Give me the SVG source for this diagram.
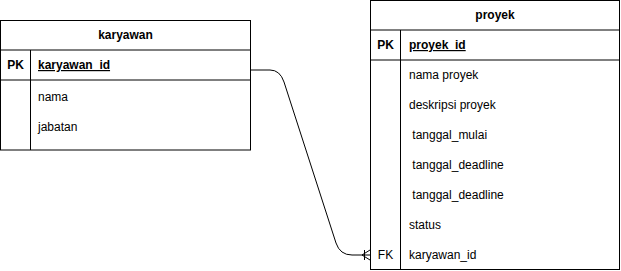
<svg xmlns="http://www.w3.org/2000/svg" width="621" height="271" viewBox="0 0 621 271">
  <style>
    .box { fill: #ffffff; stroke: #000000; stroke-width: 1; }
    .ln { fill: none; stroke: #000000; stroke-width: 1; }
    text { font-family: "Liberation Sans", Arial, Helvetica, sans-serif; font-size: 12px; fill: #000000; white-space: pre; }
    .title { font-weight: bold; text-anchor: middle; }
    .key { font-weight: bold; text-anchor: middle; }
    .pk { font-weight: bold; text-decoration: underline; }
  </style>
  <rect width="621" height="271" fill="#ffffff"/>

  <!-- connector: karyawan.karyawan_id (one) to proyek.karyawan_id (many) -->
  <g id="connectors">
    <path class="ln" d="M250.5,70 L270,70 Q280,70 284,82 L336,243 Q340,255 352,255 L370,255"/>
    <path class="ln" d="M364.5,250 L364.5,260 M362,255 L370,250 M362,255 L370,260"/>
  </g>

  <g id="karyawan">
    <rect class="box" x="0.5" y="20.5" width="250" height="129.5"/>
    <line class="ln" x1="0.5" y1="50" x2="250.5" y2="50"/>
    <line class="ln" x1="0.5" y1="80" x2="250.5" y2="80"/>
    <line class="ln" x1="30.5" y1="50" x2="30.5" y2="150"/>
    <text class="title" x="125.5" y="39">karyawan</text>
    <text class="key" x="15.5" y="69">PK</text>
    <text class="pk" x="38" y="69">karyawan_id</text>
    <text x="38" y="101">nama</text>
    <text x="38" y="131">jabatan</text>
  </g>

  <g id="proyek">
    <rect class="box" x="370.5" y="0.5" width="249" height="269"/>
    <line class="ln" x1="370.5" y1="30" x2="619.5" y2="30"/>
    <line class="ln" x1="370.5" y1="60" x2="619.5" y2="60"/>
    <line class="ln" x1="400.5" y1="30" x2="400.5" y2="269.5"/>
    <text class="title" x="495" y="19">proyek</text>
    <text class="key" x="385.5" y="49">PK</text>
    <text class="pk" x="409" y="49">proyek_id</text>
    <text x="409" y="79">nama proyek</text>
    <text x="409" y="109">deskripsi proyek</text>
    <text x="409" y="139"> tanggal_mulai</text>
    <text x="409" y="169"> tanggal_deadline</text>
    <text x="409" y="199"> tanggal_deadline</text>
    <text x="409" y="229">status</text>
    <text x="385.5" y="259" text-anchor="middle">FK</text>
    <text x="409" y="259">karyawan_id</text>
  </g>
</svg>
